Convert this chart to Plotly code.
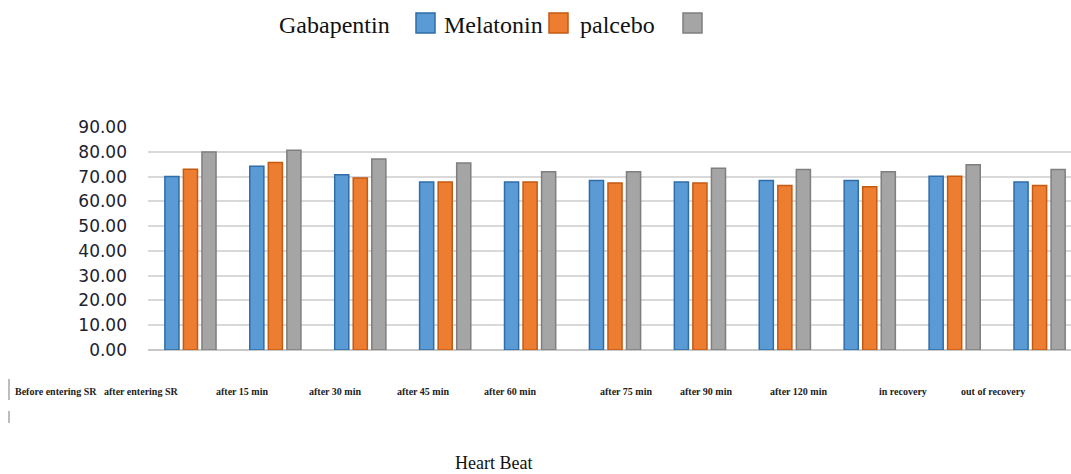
import plotly.graph_objects as go

# Heart beat per time point for the three groups
time_points = [
    "Before entering SR", "after entering SR", "after 15 min", "after 30 min",
    "after 45 min", "after 60 min", "after 75 min", "after 90 min",
    "after 120 min", "in recovery", "out of recovery",
]
gabapentin = [70.0, 74.2, 70.7, 67.8, 67.8, 68.4, 67.8, 68.4, 68.4, 70.1, 67.8]
melatonin = [72.9, 75.7, 69.4, 67.8, 67.8, 67.4, 67.4, 66.4, 65.9, 70.1, 66.4]
palcebo = [79.9, 80.6, 77.1, 75.5, 71.9, 71.9, 73.4, 72.8, 71.9, 74.8, 72.8]

series_names = ["Gabapentin", "Melatonin", "palcebo"]
y_ticks = [0, 10, 20, 30, 40, 50, 60, 70, 80, 90]

W, H = 1071, 474
ML, MR, MT, MB = 148, 0, 127, 124
PW, PH = W - ML - MR, H - MT - MB


def px(x):
    return (x - ML) / PW


def py(y):
    return (H - MB - y) / PH


fills = ["#5B9BD5", "#ED7D31", "#A5A5A5"]
edges = ["#2E6DA8", "#C55A11", "#7F7F7F"]

fig = go.Figure()
for name, vals, fc, ec in zip(series_names, [gabapentin, melatonin, palcebo], fills, edges):
    fig.add_trace(go.Bar(
        x=list(range(len(time_points))), y=vals, name=name,
        marker=dict(color=fc, line=dict(color=ec, width=1.5)),
        hovertext=time_points,
    ))

shapes = []
annotations = []

# legend drawn as text followed by swatch
legend_text_x = [277, 442, 578]
legend_box_x = [416, 549, 683]
for i, name in enumerate(series_names):
    annotations.append(dict(
        x=px(legend_text_x[i]), y=py(25), xref="paper", yref="paper",
        text=name, showarrow=False, xanchor="left", yanchor="middle",
        font=dict(family="Liberation Serif", size=24, color="#111111"),
    ))
    shapes.append(dict(
        type="rect", xref="paper", yref="paper",
        x0=px(legend_box_x[i]), x1=px(legend_box_x[i] + 19),
        y0=py(33), y1=py(13),
        fillcolor=fills[i], line=dict(color=edges[i], width=1.5),
    ))

# category label row below the plot
label_x = [13, 102, 214, 307, 395, 482, 598, 678, 768, 877, 959]
for lbl, lx in zip(time_points, label_x):
    annotations.append(dict(
        x=px(lx), y=py(391), xref="paper", yref="paper",
        text="<b>" + lbl + "</b>", showarrow=False, xanchor="left", yanchor="middle",
        font=dict(family="Liberation Serif", size=10, color="#222222"),
    ))

# thin rules at the left of the label row
for y0, y1 in [(379, 400), (411, 423)]:
    shapes.append(dict(
        type="line", xref="paper", yref="paper",
        x0=px(9), x1=px(9), y0=py(y0), y1=py(y1),
        line=dict(color="#bdbdbd", width=2),
    ))

annotations.append(dict(
    x=px(493), y=py(463), xref="paper", yref="paper",
    text="Heart Beat", showarrow=False, xanchor="center", yanchor="middle",
    font=dict(family="Liberation Serif", size=18, color="#111111"),
))

fig.update_layout(
    width=W, height=H,
    margin=dict(l=ML, r=MR, t=MT, b=MB),
    paper_bgcolor="white", plot_bgcolor="white",
    barmode="group", bargap=0.345, bargroupgap=0.24,
    showlegend=False,
    shapes=shapes, annotations=annotations,
    xaxis=dict(
        range=[-0.5, 10.37], showticklabels=False, showgrid=False,
        zeroline=False, showline=False, fixedrange=True,
    ),
    yaxis=dict(
        range=[0, 90], tickvals=y_ticks, tickformat=".2f",
        showgrid=True, gridcolor="#d9d9d9", gridwidth=1.5,
        zeroline=True, zerolinecolor="#c8c8c8", zerolinewidth=1.5,
        showline=False, ticks="", ticklabelstandoff=20,
        tickfont=dict(family="DejaVu Sans", size=17, color="#1c2230"),
    ),
)

fig.write_html("out.html")
